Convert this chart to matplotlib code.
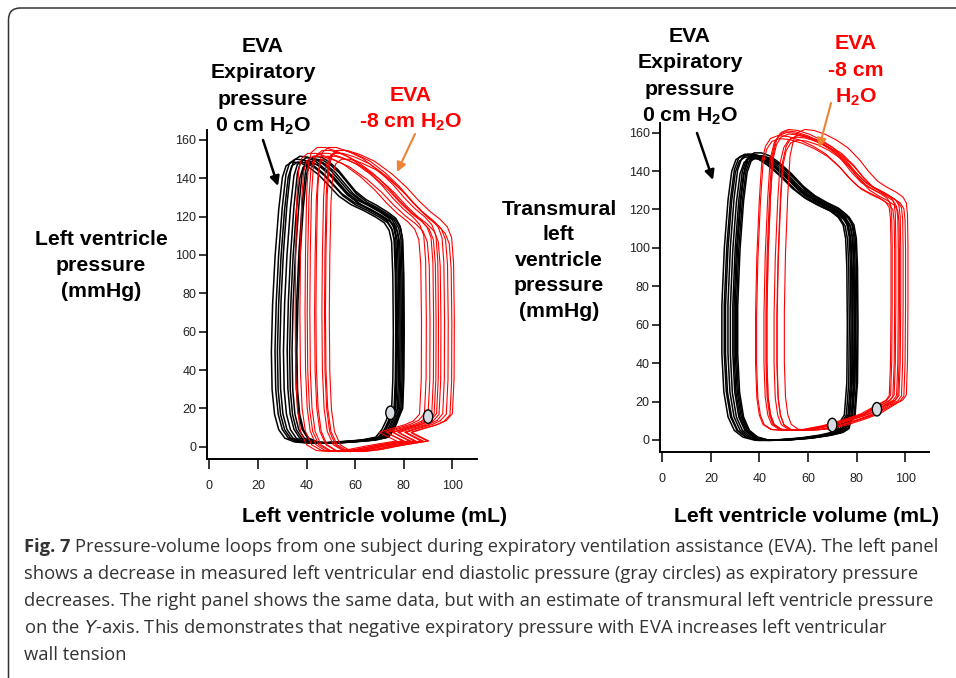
import numpy as np
import matplotlib
matplotlib.use('Agg')
import matplotlib.pyplot as plt
from matplotlib import font_manager
from matplotlib.patches import Ellipse, FancyBboxPatch, FancyArrowPatch

W, H = 956, 678

plt.rcParams['font.family'] = ['Liberation Sans', 'DejaVu Sans']
plt.rcParams['mathtext.fontset'] = 'custom'
plt.rcParams['mathtext.rm'] = 'Liberation Sans'
plt.rcParams['mathtext.bf'] = 'Liberation Sans:bold'

available = {f.name for f in font_manager.fontManager.ttflist}
TICK_FONT = 'Liberation Sans Narrow' if 'Liberation Sans Narrow' in available else 'Liberation Sans'
TICK_SIZE = 10 if TICK_FONT.endswith('Narrow') else 9

# ---- data ----
ticks_x = [0, 20, 40, 60, 80, 100]
ticks_y = [0, 20, 40, 60, 80, 100, 120, 140, 160]

# left panel, 0 cm H2O (black), base loop + per-beat shift / stretch / pressure scale
lb_vol = [76.0, 77.5, 78.0, 78.2, 78.0, 77.5, 76.5, 74.5, 71.0, 66.0, 61.0, 56.0, 52.0, 48.0, 44.0,
          40.5, 37.0, 34.5, 33.0, 31.5, 30.0, 29.0, 28.5, 28.8, 29.8, 31.5, 34.0, 38.0, 45.0, 55.0,
          65.0, 71.0, 73.5, 75.0]
lb_prs = [16.0, 20.0, 35.0, 60.0, 90.0, 108.0, 114.0, 118.0, 121.0, 124.5, 127.5, 132.0, 137.5, 143.0,
          147.0, 149.5, 150.0, 148.0, 142.0, 125.0, 100.0, 75.0, 50.0, 30.0, 17.0, 9.0, 4.5, 2.5, 1.8,
          2.5, 3.5, 5.0, 9.0, 13.0]
lb_shift = [-2.5, -1.5, -0.8, -0.2, 0.3, 0.8, 1.3, 1.8, -1.2, 2.0]
lb_stretch = [1.01, 1.0, 0.974, 0.956, 0.935, 0.925, 0.915, 0.895, 0.986, 0.889]
lb_pscale = [0.99, 1.0, 1.01, 0.995, 1.005, 0.985, 1.0, 1.01, 0.99, 1.0]

# left panel, -8 cm H2O (red)
lr_vol = [91.0, 93.5, 94.2, 94.3, 94.0, 93.2, 91.5, 88.5, 84.5, 80.0, 75.0, 69.0, 62.0, 56.0, 51.0,
          47.5, 45.0, 43.8, 43.0, 42.5, 42.3, 42.5, 43.2, 44.5, 47.0, 51.0, 57.0, 64.0, 72.0, 79.0,
          84.0, 80.0, 77.0, 82.0, 87.5]
lr_prs = [13.5, 17.0, 35.0, 65.0, 95.0, 108.0, 113.5, 117.5, 121.5, 127.0, 134.0, 141.0, 147.5, 151.0,
          153.0, 153.0, 150.5, 145.0, 130.0, 100.0, 70.0, 40.0, 20.0, 8.0, 1.0, -2.0, -2.5, -1.5, 0.5,
          2.0, 3.0, 5.5, 7.5, 9.5, 11.5]
lr_shift = [-7.0, -5.0, -3.5, -2.0, -1.0, 0.0, 1.0, 2.5, 4.0, 5.5, 6.5]
lr_stretch = [1.0, 0.96, 1.03, 0.98, 1.02, 0.97, 1.0, 0.95, 1.0, 0.97, 1.02]
lr_pscale = [1.0, 1.02, 0.99, 1.01, 1.0, 1.02, 0.99, 1.01, 1.0, 0.98, 1.01]

# right panel, transmural, 0 cm H2O (black)
rb_vol = [76.0, 78.0, 79.0, 79.2, 79.0, 78.5, 77.5, 75.5, 72.0, 67.0, 62.0, 57.0, 52.0, 47.0, 43.0,
          39.5, 36.5, 34.2, 32.5, 31.0, 29.5, 28.5, 28.5, 29.3, 31.0, 33.5, 37.0, 42.0, 50.0, 60.0,
          68.0, 73.0, 75.5]
rb_prs = [9.0, 13.0, 30.0, 60.0, 90.0, 105.0, 112.0, 116.0, 119.5, 122.5, 126.0, 131.0, 137.5, 143.0,
          146.5, 148.0, 148.0, 146.0, 140.0, 125.0, 100.0, 70.0, 45.0, 25.0, 12.0, 5.0, 1.5, -0.2, 0.0,
          1.0, 2.5, 4.0, 6.0]
rb_shift = [-3.0, -2.2, -1.5, -0.8, -0.2, 0.4, 1.0, 1.4, -1.0, 0.0]
rb_stretch = [1.02, 1.006, 1.0, 0.994, 0.986, 0.978, 0.97, 0.988, 1.04, 0.98]
rb_pscale = [1.0, 0.995, 1.005, 0.99, 1.0, 1.01, 0.995, 1.0, 1.005, 0.99]

# right panel, transmural, -8 cm H2O (red)
rr_vol = [92.0, 95.0, 96.5, 97.0, 97.2, 97.2, 97.0, 96.5, 95.0, 92.0, 88.0, 84.0, 80.0, 76.0, 71.0,
          66.0, 61.0, 56.0, 52.0, 49.0, 47.0, 45.5, 44.5, 43.5, 43.0, 43.0, 43.5, 44.5, 46.0, 49.0,
          54.0, 62.0, 70.0, 78.0, 85.0]
rr_prs = [18.5, 20.5, 23.0, 40.0, 70.0, 100.0, 115.0, 121.0, 124.0, 126.5, 129.0, 132.0, 137.0, 143.0,
          149.0, 153.0, 156.0, 158.0, 158.5, 157.0, 153.0, 145.0, 125.0, 95.0, 65.0, 40.0, 22.0, 13.0,
          8.0, 5.5, 5.0, 5.5, 7.5, 10.5, 13.5]
rr_shift = [-3.0, -2.5, -1.5, -1.0, 0.0, 0.5, 1.0, 2.0, 3.0, 4.0]
rr_stretch = [1.03, 0.96, 1.05, 0.98, 1.0, 0.93, 1.04, 0.96, 1.0, 0.94]
rr_pscale = [1.0, 1.015, 0.99, 1.02, 1.005, 0.985, 1.01, 1.0, 0.995, 1.02]

# end diastolic points (gray circles)
left_edv = [74.5, 90.0]
left_edp = [17.7, 15.7]
right_edv = [70.0, 88.4]
right_edp = [7.8, 16.0]

caption_first = ('Pressure-volume loops from one subject during expiratory ventilation '
                 'assistance (EVA). The left panel')
caption = [
    'shows a decrease in measured left ventricular end diastolic pressure (gray circles) as expiratory pressure',
    'decreases. The right panel shows the same data, but with an estimate of transmural left ventricle pressure',
    'on the $\\mathit{Y}$-axis. This demonstrates that negative expiratory pressure with EVA increases left ventricular',
    'wall tension',
]


def px(x, y):
    return x / W, 1 - y / H


def draw_loops(ax, vol, prs, vref, shifts, stretches, pscales, color, lw):
    vol = np.append(vol, vol[0])
    prs = np.append(prs, prs[0])
    for d, s, k in zip(shifts, stretches, pscales):
        ax.plot(vref + (vol - vref) * s + d, prs * k, color=color, lw=lw,
                solid_joinstyle='round', solid_capstyle='round')


def draw_ed(ax, vols, prss):
    for v, p in zip(vols, prss):
        ax.add_patch(Ellipse((v, p), 3.8, 7.0, fc='#d6dbe2', ec='k', lw=1.0, zorder=5))


def style_axes(ax, ylim):
    ax.set_xlim(-1, 110)
    ax.set_ylim(*ylim)
    ax.patch.set_alpha(0)
    for sp in ['top', 'right']:
        ax.spines[sp].set_visible(False)
    for sp in ['left', 'bottom']:
        ax.spines[sp].set_linewidth(1.4)
    ax.set_xticks(ticks_x)
    ax.set_yticks(ticks_y)
    ax.tick_params(axis='y', length=6, width=1.1, pad=1.5, labelsize=TICK_SIZE)
    ax.tick_params(axis='x', length=7, width=1.1, pad=8, labelsize=TICK_SIZE)
    for lab in ax.get_xticklabels() + ax.get_yticklabels():
        lab.set_fontfamily(TICK_FONT)
        lab.set_color('#222222')


fig = plt.figure(figsize=(9.56, 6.78), dpi=100)

# frame around the figure
fig.add_artist(FancyBboxPatch((0.085, -1.0), 12, 7.7, boxstyle='round,pad=0,rounding_size=0.12',
                              transform=fig.dpi_scale_trans, fc='none', ec='#333333', lw=1.1))

# left panel
ax1 = fig.add_axes([0.2165, 0.3230, 0.2821, 0.4853])
draw_loops(ax1, lb_vol, lb_prs, 78, lb_shift, lb_stretch, lb_pscale, 'black', 1.1)
draw_loops(ax1, lr_vol, lr_prs, 94, lr_shift, lr_stretch, lr_pscale, '#ff0000', 0.8)
draw_ed(ax1, left_edv, left_edp)
style_axes(ax1, (-6.4, 165.2))

# right panel
ax2 = fig.add_axes([0.6904, 0.3338, 0.2817, 0.4844])
draw_loops(ax2, rb_vol, rb_prs, 79, rb_shift, rb_stretch, rb_pscale, 'black', 1.1)
draw_loops(ax2, rr_vol, rr_prs, 97, rr_shift, rr_stretch, rr_pscale, '#ff0000', 0.8)
draw_ed(ax2, right_edv, right_edp)
style_axes(ax2, (-6.1, 164.9))

# labels
bold = dict(fontsize=15.3, fontweight='bold', ha='center', va='baseline')
h2o = 'H$_\\mathbf{2}$O'

for i, s in enumerate(['EVA', 'Expiratory', 'pressure', '0 cm ' + h2o]):
    fig.text(*px(263, 51.7 + 26.5 * i), s, color='black', **bold)
for i, s in enumerate(['EVA', '-8 cm ' + h2o]):
    fig.text(*px(411, 101 + 26 * i), s, color='#ff0000', **bold)
for i, s in enumerate(['EVA', 'Expiratory', 'pressure', '0 cm ' + h2o]):
    fig.text(*px(690, 41.7 + 26.5 * i), s, color='black', **bold)
for i, s in enumerate(['EVA', '-8 cm', h2o]):
    fig.text(*px(856, 49 + 26.6 * i), s, color='#ff0000', **bold)

for i, s in enumerate(['Left ventricle', 'pressure', '(mmHg)']):
    fig.text(*px(101, 245 + 26 * i), s, color='black', **bold)
for i, s in enumerate(['Transmural', 'left', 'ventricle', 'pressure', '(mmHg)']):
    fig.text(*px(559, 215 + 25.4 * i), s, color='black', **bold)

fig.text(*px(374, 521.7), 'Left ventricle volume (mL)', color='black', **bold)
fig.text(*px(806, 521.7), 'Left ventricle volume (mL)', color='black', **bold)

# arrows
for start, end, col, lw in [((263, 140), (278, 186), 'black', 1.8),
                            ((415, 134), (397, 172), '#ee8335', 1.5),
                            ((697, 133), (713, 180), 'black', 1.8),
                            ((831, 103), (819, 148), '#ee8335', 1.5)]:
    fig.add_artist(FancyArrowPatch(
        px(*start), px(*end), transform=fig.transFigure, arrowstyle='-|>',
        mutation_scale=14, lw=lw, color=col, shrinkA=0, shrinkB=0))

# caption
cap = dict(fontsize=13.2, color='#333333', va='baseline', ha='left', family=['Open Sans', 'DejaVu Sans'])
t0 = fig.text(*px(24, 552.3), 'Fig. 7', fontweight='bold', **cap)
fig.canvas.draw()
bb = t0.get_window_extent()
fig.text((bb.x1 + 4.5) / W, 1 - 552.3 / H, caption_first, **cap)
for i, line in enumerate(caption):
    fig.text(*px(24, 579.3 + 27 * i), line, **cap)

plt.savefig('out.png', dpi=100)
